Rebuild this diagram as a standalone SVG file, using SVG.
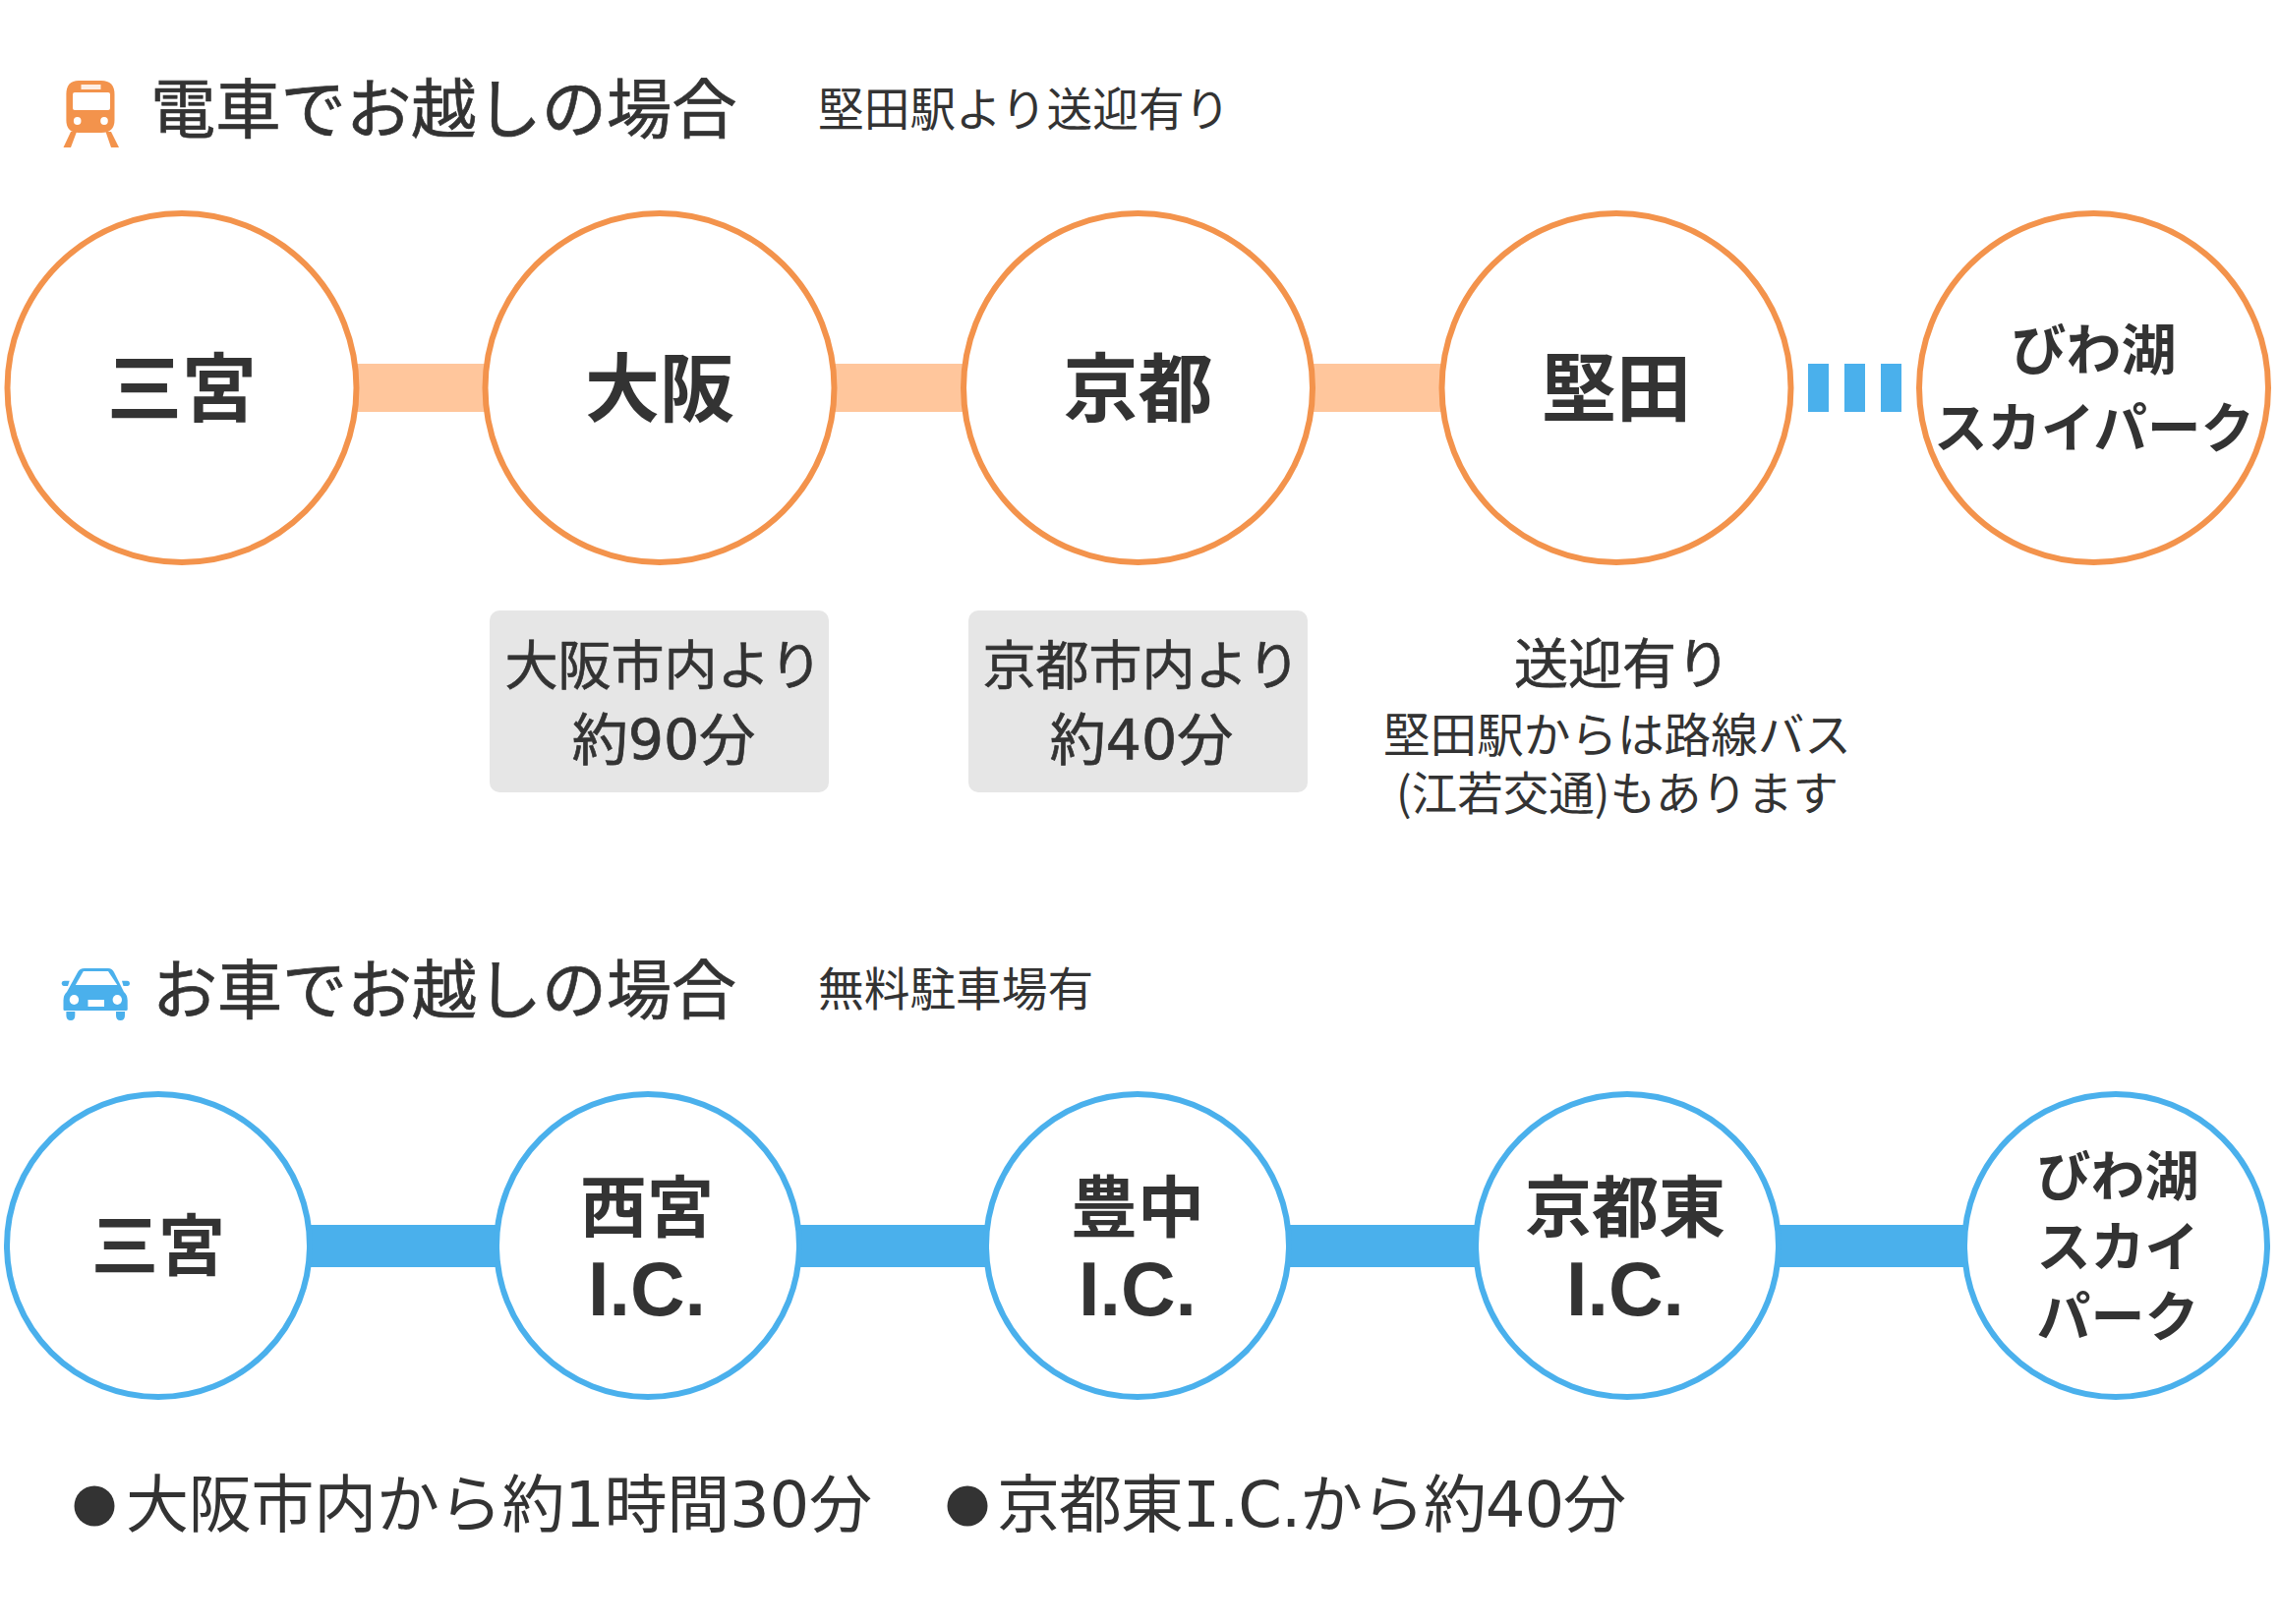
<svg xmlns="http://www.w3.org/2000/svg" width="2318" height="1652" viewBox="0 0 2318 1652">
<style>
text{font-family:"Noto Sans CJK JP","Noto Sans",sans-serif;fill:#333;text-anchor:middle}
.s{text-anchor:start}
.b{font-weight:700}
.h{stroke:#333;stroke-width:.7}
.d{font-family:"DejaVu Sans","Noto Sans CJK JP",sans-serif}
.a{font-family:"Liberation Sans",sans-serif;font-weight:700;font-size:77px}
.m{font-family:"DejaVu Sans Mono",monospace}
.o{fill:#fff;stroke:#F3934C;stroke-width:6}
.l{fill:#fff;stroke:#4AB0EC;stroke-width:6}
</style>
<rect width="2318" height="1652" fill="#fff"/>
<g id="connectors">
<rect x="360" y="370" width="136" height="49" fill="#FFC69C"/>
<rect x="846" y="370" width="136" height="49" fill="#FFC69C"/>
<rect x="1333" y="370" width="136" height="49" fill="#FFC69C"/>
<g fill="#4AB0EC">
<rect x="1839" y="370" width="21" height="49"/><rect x="1876" y="370" width="21" height="49"/><rect x="1913" y="370" width="21" height="49"/>
<rect x="312" y="1246" width="198" height="43"/><rect x="810" y="1246" width="198" height="43"/><rect x="1308" y="1246" width="198" height="43"/><rect x="1806" y="1246" width="198" height="43"/>
</g>
</g>
<g id="icon-train">
<path d="M80 82H103Q116.500 82 116.500 96V122Q116.500 135 103 135H80Q67.400 135 67.400 122V96Q67.400 82 80 82Z" fill="#F3934C"/>
<path d="M72 134H78L72 150H64.500ZM107.500 134H113L121 150H113Z" fill="#F3934C"/>
<rect x="82.500" y="86" width="20" height="5" fill="#fff" opacity=".85"/>
<rect x="74" y="94" width="38" height="18" rx="2" fill="#fff"/>
<ellipse cx="78.700" cy="123" rx="3.800" ry="4" fill="#fff"/><ellipse cx="106" cy="123" rx="3.800" ry="4" fill="#fff"/>
</g>
<g id="title-train">
<text class="s h" x="153" y="135" font-size="66.300">電車でお越しの場合</text>
<text class="s" x="832" y="128" font-size="46.700">堅田駅より送迎有り</text>
</g>
<g id="t1"><circle class="o" cx="185" cy="394.500" r="177.500"/><text class="b" x="185" y="423" font-size="76">三宮</text></g>
<g id="t2"><circle class="o" cx="671" cy="394.500" r="177.500"/><text class="b" x="671" y="423" font-size="76">大阪</text></g>
<g id="t3"><circle class="o" cx="1157.500" cy="394.500" r="177.500"/><text class="b" x="1157.500" y="423" font-size="76">京都</text></g>
<g id="t4"><circle class="o" cx="1644" cy="394.500" r="177.500"/><text class="b" x="1644" y="423" font-size="76">堅田</text></g>
<g id="t5"><circle class="o" cx="2129.500" cy="394.500" r="177.500"/><text class="b" x="2129.500" y="376" font-size="56">びわ湖</text><text class="b" x="2130" y="455" font-size="54.500">スカイパーク</text></g>
<g id="note-osaka"><rect x="498" y="621" width="345" height="185" rx="10" fill="#E6E6E6"/><text class="h" x="675" y="697" font-size="54">大阪市内より</text><text class="d h" x="675" y="773" font-size="57">約90分</text></g>
<g id="note-kyoto"><rect x="985" y="621" width="345" height="185" rx="10" fill="#E6E6E6"/><text class="h" x="1161" y="697" font-size="54">京都市内より</text><text class="d h" x="1161" y="773" font-size="57">約40分</text></g>
<g id="note-katata">
<text class="h" x="1650" y="695" font-size="55">送迎有り</text>
<text x="1645" y="765" font-size="47.600">堅田駅からは路線バス</text>
<text x="1645" y="824" font-size="46.500">(江若交通)もあります</text>
</g>
<g id="icon-car" fill="#4AB0EC">
<path d="M86 985H110Q114 985 116 989L126 1009Q129.700 1012 129.700 1018V1027Q129.700 1028 128 1028H66Q64.500 1028 64.500 1027V1018Q64.500 1012 68 1009L79 989Q81 985 86 985Z"/>
<path d="M62.600 1000Q63 997.500 66 997.700H70.700L69 1003H65Q63 1003 62.600 1000ZM132 1000Q131.600 997.500 129 997.700H124L125.500 1003H129.500Q132 1003 132 1000Z"/>
<path d="M67.400 1029H76.300V1033Q76.300 1038 72 1038Q67.400 1038 67.400 1033ZM118 1029H127V1033Q127 1038 122.500 1038Q118 1038 118 1033Z"/>
<path d="M76.800 1002L84.800 988H110L119.300 1002Z" fill="#fff"/>
<ellipse cx="75.400" cy="1017" rx="4.700" ry="5" fill="#fff"/><ellipse cx="119.300" cy="1017" rx="4.700" ry="5" fill="#fff"/>
<rect x="89.500" y="1017" width="16.500" height="7" fill="#fff"/>
</g>
<g id="title-car">
<text class="s h" x="155" y="1031" font-size="66">お車でお越しの場合</text>
<text class="s" x="832" y="1023" font-size="46.700">無料駐車場有</text>
</g>
<g id="c1"><circle class="l" cx="161" cy="1267" r="154"/><text class="b" x="161" y="1292" font-size="68">三宮</text></g>
<g id="c2"><circle class="l" cx="659" cy="1267" r="154"/><text class="b" x="658" y="1253" font-size="68">西宮</text><text class="a" x="658" y="1338">I.C.</text></g>
<g id="c3"><circle class="l" cx="1157" cy="1267" r="154"/><text class="b" x="1157" y="1253" font-size="68">豊中</text><text class="a" x="1157" y="1338">I.C.</text></g>
<g id="c4"><circle class="l" cx="1655" cy="1267" r="154"/><text class="b" x="1653" y="1253" font-size="68">京都東</text><text class="a" x="1653" y="1338">I.C.</text></g>
<g id="c5"><circle class="l" cx="2152" cy="1267" r="154"/><text class="b" x="2154" y="1216" font-size="55">びわ湖</text><text class="b" x="2154" y="1288" font-size="55">スカイ</text><text class="b" x="2154" y="1359" font-size="55">パーク</text></g>
<g id="footer">
<circle cx="96" cy="1532" r="20.500" fill="#333"/>
<text class="s d" x="128" y="1553" font-size="64" textLength="759">大阪市内から約1時間30分</text>
<circle cx="984" cy="1532" r="20.500" fill="#333"/>
<text class="s d" x="1014" y="1553" font-size="64" textLength="640">京都東<tspan class="m">I</tspan>.C.から約40分</text>
</g>
</svg>
